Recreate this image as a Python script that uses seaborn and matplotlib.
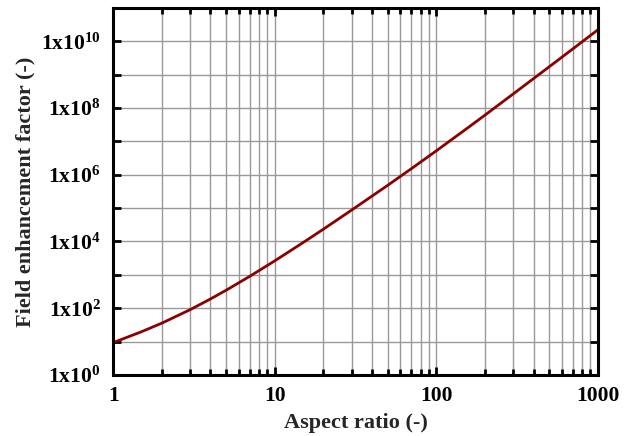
import numpy as np
import pandas as pd
import seaborn as sns
import matplotlib
matplotlib.use("Agg")
import matplotlib.pyplot as plt
from matplotlib.ticker import LogLocator, FixedLocator, FuncFormatter, NullFormatter

aspect_ratio = [1, 1.5, 2, 3, 4, 5, 7, 10, 15, 20, 30, 50, 70, 100, 150, 200, 300, 500, 700, 1000]
field_enh = [9.3, 19.8, 35.6, 90.6, 189, 345, 900, 2620, 9.3e3, 2.33e4, 8.8e4, 4.8e5, 1.51e6,
             5.2e6, 2.18e7, 6.1e7, 2.66e8, 1.72e9, 5.9e9, 2.2e10]
x_ticks = [1, 10, 100, 1000]
x_ticklabels = ["1", "10", "100", "1000"]
y_label_exps = [0, 2, 4, 6, 8, 10]

df = pd.DataFrame({"x": aspect_ratio, "y": field_enh})

sns.set_theme(style="ticks")
plt.rcParams['font.family'] = ['Liberation Serif', 'DejaVu Serif']
plt.rcParams['font.weight'] = 'bold'
plt.rcParams['mathtext.fontset'] = 'custom'
plt.rcParams['mathtext.rm'] = 'Liberation Serif:bold'
plt.rcParams['mathtext.bf'] = 'Liberation Serif:bold'
plt.rcParams['mathtext.it'] = 'Liberation Serif:bold'

fig = plt.figure(figsize=(6.32, 4.36), dpi=100)
ax = fig.add_axes([0.179, 0.140, 0.767, 0.842])

sns.lineplot(data=df, x="x", y="y", ax=ax, color="#8B0000", linewidth=2.0)
ax.set_xscale("log")
ax.set_yscale("log")
ax.set_xlim(1, 1000)
ax.set_ylim(1, 1e11)

ax.xaxis.set_major_locator(FixedLocator(x_ticks))
ax.xaxis.set_major_formatter(FuncFormatter(lambda v, p: x_ticklabels[x_ticks.index(int(round(v)))] if int(round(v)) in x_ticks else ""))
ax.xaxis.set_minor_locator(LogLocator(base=10, subs=np.arange(2, 10)))
ax.xaxis.set_minor_formatter(NullFormatter())

ax.yaxis.set_major_locator(FixedLocator([10.0**e for e in range(0, 12)]))
def yfmt(v, p):
    e = int(round(np.log10(v)))
    if e in y_label_exps:
        return r"1x10$^{%d}$" % e
    return ""
ax.yaxis.set_major_formatter(FuncFormatter(yfmt))
ax.yaxis.set_minor_locator(FixedLocator([]))

ax.grid(True, which="major", axis="both", color="#999999", linewidth=1.0)
ax.grid(True, which="minor", axis="x", color="#999999", linewidth=1.0)
ax.set_axisbelow(True)

ax.tick_params(which="both", direction="in", top=True, right=True, colors="black",
               labelsize=15.5, width=2)
ax.tick_params(which="major", length=6)
ax.tick_params(which="minor", length=4)
ax.tick_params(axis="x", pad=8)
ax.tick_params(axis="y", pad=9)
for lbl in ax.get_xticklabels() + ax.get_yticklabels():
    lbl.set_fontweight("bold")

for s in ax.spines.values():
    s.set_linewidth(2.2)
    s.set_color("black")

ax.set_xlabel("Aspect ratio (-)", fontsize=16, fontweight="bold", labelpad=5)
ax.set_ylabel("Field enhancement factor (-)", fontsize=16, fontweight="bold", labelpad=4)

fig.savefig("out.png", dpi=100)
